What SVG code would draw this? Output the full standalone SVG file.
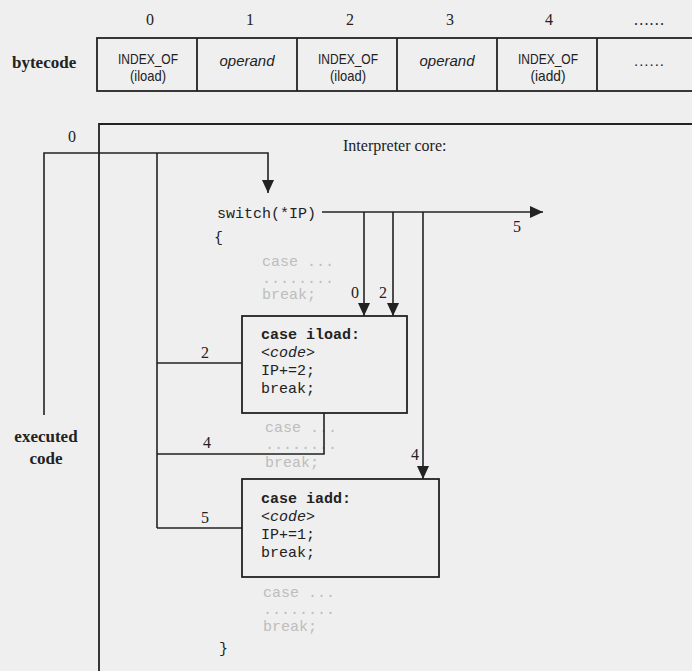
<svg xmlns="http://www.w3.org/2000/svg" width="692" height="671" viewBox="0 0 692 671">
<style>
.bg{fill:#efefef}
.ln{fill:none;stroke:#222;stroke-width:1.6}
.box{fill:none;stroke:#222;stroke-width:1.8}
.ser{font-family:"Liberation Serif","Times New Roman",serif;font-size:16px;fill:#222}
.serb{font-family:"Liberation Serif","Times New Roman",serif;font-size:17px;font-weight:bold;fill:#222}
.cell{font-family:"Liberation Sans",Arial,sans-serif;font-size:15px;fill:#222;text-anchor:middle}
.it{font-style:italic}
.mono{font-family:"Liberation Mono","Courier New",monospace;font-size:15px;fill:#222}
.monob{font-family:"Liberation Mono","Courier New",monospace;font-size:15px;font-weight:bold;fill:#222}
.gray{fill:#bdbdbd}
</style>
<defs>
<marker id="ah" markerUnits="userSpaceOnUse" markerWidth="14" markerHeight="12" refX="13" refY="6" orient="auto">
<path d="M0,0 L13,6 L0,12 z" fill="#222"/>
</marker>
</defs>
<rect class="bg" x="0" y="0" width="692" height="671"/>

<g id="index-labels">
<text class="ser" x="150" y="25" text-anchor="middle">0</text>
<text class="ser" x="250" y="25" text-anchor="middle">1</text>
<text class="ser" x="350" y="25" text-anchor="middle">2</text>
<text class="ser" x="450" y="25" text-anchor="middle">3</text>
<text class="ser" x="549" y="25" text-anchor="middle">4</text>
<text class="ser" x="649" y="25" text-anchor="middle" textLength="30" lengthAdjust="spacing">......</text>
</g>

<g id="bytecode">
<text class="serb" x="12" y="68">bytecode</text>
<rect class="box" x="97" y="38" width="605" height="53"/>
<line class="box" x1="197" y1="38" x2="197" y2="91"/>
<line class="box" x1="297" y1="38" x2="297" y2="91"/>
<line class="box" x1="397" y1="38" x2="397" y2="91"/>
<line class="box" x1="497" y1="38" x2="497" y2="91"/>
<line class="box" x1="597" y1="38" x2="597" y2="91"/>
<text class="cell" x="148" y="64" textLength="60" lengthAdjust="spacingAndGlyphs">INDEX_OF</text>
<text class="cell" x="148" y="81" textLength="36" lengthAdjust="spacingAndGlyphs">(iload)</text>
<text class="cell it" x="247" y="66" font-size="14">operand</text>
<text class="cell" x="348" y="64" textLength="60" lengthAdjust="spacingAndGlyphs">INDEX_OF</text>
<text class="cell" x="348" y="81" textLength="36" lengthAdjust="spacingAndGlyphs">(iload)</text>
<text class="cell it" x="447" y="66" font-size="14">operand</text>
<text class="cell" x="548" y="64" textLength="60" lengthAdjust="spacingAndGlyphs">INDEX_OF</text>
<text class="cell" x="548" y="81" textLength="35" lengthAdjust="spacingAndGlyphs">(iadd)</text>
<text class="cell" x="649" y="66" textLength="30" lengthAdjust="spacing">......</text>
</g>

<g id="executed-code">
<text class="serb" x="46" y="442" text-anchor="middle">executed</text>
<text class="serb" x="46" y="464" text-anchor="middle">code</text>
</g>

<g id="interpreter-core">
<path class="box" d="M99,671 L99,124 L692,124"/>
<text class="ser" x="343" y="151" font-size="17">Interpreter core:</text>
<text class="mono" x="217" y="218">switch(*IP)</text>
<text class="mono" x="214" y="242">{</text>
<text class="mono gray" x="262" y="266">case ...</text>
<text class="mono gray" x="262" y="283">........</text>
<text class="mono gray" x="262" y="299">break;</text>
<text class="mono gray" x="265" y="432">case ...</text>
<text class="mono gray" x="265" y="449">........</text>
<text class="mono gray" x="265" y="467">break;</text>
<text class="mono gray" x="263" y="597">case ...</text>
<text class="mono gray" x="263" y="614">........</text>
<text class="mono gray" x="263" y="631">break;</text>
<text class="mono" x="219" y="653">}</text>
</g>

<g id="case-iload">
<rect class="box" x="242" y="316" width="165" height="97"/>
<text class="monob" x="261" y="339">case iload:</text>
<text class="mono it" x="261" y="357">&lt;code&gt;</text>
<text class="mono" x="261" y="375">IP+=2;</text>
<text class="mono" x="261" y="393">break;</text>
</g>

<g id="case-iadd">
<rect class="box" x="242" y="479" width="197" height="98"/>
<text class="monob" x="261" y="503">case iadd:</text>
<text class="mono it" x="261" y="521">&lt;code&gt;</text>
<text class="mono" x="261" y="539">IP+=1;</text>
<text class="mono" x="261" y="557">break;</text>
</g>

<g id="connectors">
<path class="ln" d="M44,415 L44,153 L268,153 L268,193" marker-end="url(#ah)"/>
<path class="ln" d="M157,153 L157,528"/>
<path class="ln" d="M157,363 L242,363"/>
<path class="ln" d="M157,454 L324,454 L324,413"/>
<path class="ln" d="M157,528 L242,528"/>
<path class="ln" d="M322,212 L543,212" marker-end="url(#ah)"/>
<path class="ln" d="M364,212 L364,316" marker-end="url(#ah)"/>
<path class="ln" d="M393,212 L393,316" marker-end="url(#ah)"/>
<path class="ln" d="M423,212 L423,479" marker-end="url(#ah)"/>
<text class="ser" x="72" y="142" text-anchor="middle">0</text>
<text class="ser" x="517" y="232" text-anchor="middle">5</text>
<text class="ser" x="355" y="298" text-anchor="middle">0</text>
<text class="ser" x="383" y="298" text-anchor="middle">2</text>
<text class="ser" x="205" y="358" text-anchor="middle">2</text>
<text class="ser" x="207" y="448" text-anchor="middle">4</text>
<text class="ser" x="415" y="460" text-anchor="middle">4</text>
<text class="ser" x="205" y="523" text-anchor="middle">5</text>
</g>
</svg>
